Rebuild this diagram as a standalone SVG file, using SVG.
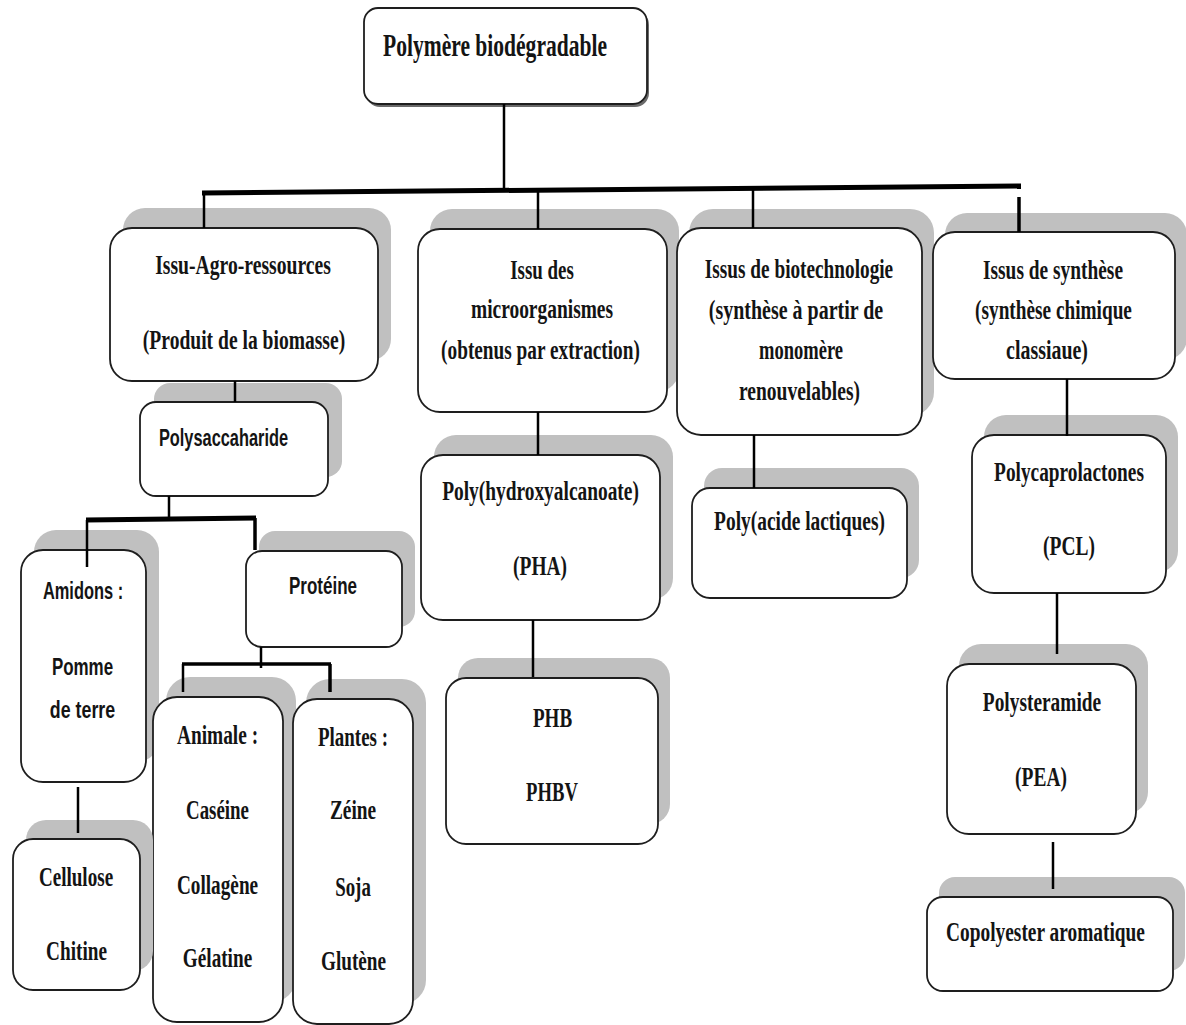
<svg xmlns="http://www.w3.org/2000/svg" width="1186" height="1025" viewBox="0 0 1186 1025">
<style>
.bg{fill:#ffffff}
.sh{fill:#c0c0c0}
.bx{fill:#ffffff;stroke:#1e1e1e;stroke-width:1.8}
.ts{fill:#6a6a6a}
.t{font-family:"Liberation Serif","Times New Roman",serif;font-weight:bold;font-size:28px;fill:#141414;text-anchor:middle}
.tt{font-size:31px}
.s{font-family:"Liberation Sans",Arial,sans-serif;font-weight:bold;font-size:24px;fill:#141414;text-anchor:middle}
.c line{stroke:#000;stroke-width:2.5;fill:none}
.c .k{stroke-width:5}
.c .m{stroke-width:3.5}
</style>
<rect class="bg" x="0" y="0" width="1186" height="1025"/>

<g id="n-polymere">
<rect class="ts" x="366" y="11" width="283" height="96" rx="14"/>
<rect class="bx" x="364" y="8" width="283" height="96" rx="14"/>
<text class="t tt" transform="translate(495,56) scale(0.7,1)" textLength="320" lengthAdjust="spacingAndGlyphs">Polymère biodégradable</text>
</g>

<g id="n-agro">
<rect class="sh" x="123" y="208" width="268" height="153" rx="22"/>
<rect class="bx" x="110" y="228" width="268" height="153" rx="22"/>
<text class="t" transform="translate(243,274) scale(0.7,1)" textLength="251" lengthAdjust="spacingAndGlyphs">Issu-Agro-ressources</text>
<text class="t" transform="translate(244,349) scale(0.7,1)" textLength="289" lengthAdjust="spacingAndGlyphs">(Produit de la biomasse)</text>
</g>

<g id="n-micro">
<rect class="sh" x="430" y="209" width="249" height="183" rx="22"/>
<rect class="bx" x="418" y="229" width="249" height="183" rx="22"/>
<text class="t" transform="translate(542,279) scale(0.7,1)" textLength="91" lengthAdjust="spacingAndGlyphs">Issu des</text>
<text class="t" transform="translate(542,318) scale(0.7,1)" textLength="203" lengthAdjust="spacingAndGlyphs">microorganismes</text>
<text class="t" transform="translate(540.5,359) scale(0.7,1)" textLength="284" lengthAdjust="spacingAndGlyphs">(obtenus par extraction)</text>
</g>

<g id="n-biotech">
<rect class="sh" x="689" y="209" width="245" height="207" rx="24"/>
<rect class="bx" x="677" y="228" width="245" height="207" rx="24"/>
<text class="t" transform="translate(799,278) scale(0.7,1)" textLength="269" lengthAdjust="spacingAndGlyphs">Issus de biotechnologie</text>
<text class="t" transform="translate(796,319) scale(0.7,1)" textLength="249" lengthAdjust="spacingAndGlyphs">(synthèse à partir de</text>
<text class="t" transform="translate(801,359) scale(0.7,1)" textLength="120" lengthAdjust="spacingAndGlyphs">monomère</text>
<text class="t" transform="translate(799.5,400) scale(0.7,1)" textLength="173" lengthAdjust="spacingAndGlyphs">renouvelables)</text>
</g>

<g id="n-synthese">
<rect class="sh" x="945" y="213" width="242" height="147" rx="22"/>
<rect class="bx" x="933" y="232" width="242" height="147" rx="22"/>
<text class="t" transform="translate(1053,279) scale(0.7,1)" textLength="200" lengthAdjust="spacingAndGlyphs">Issus de synthèse</text>
<text class="t" transform="translate(1053.5,319) scale(0.7,1)" textLength="224" lengthAdjust="spacingAndGlyphs">(synthèse chimique</text>
<text class="t" transform="translate(1047,359) scale(0.7,1)" textLength="117" lengthAdjust="spacingAndGlyphs">classiaue)</text>
</g>

<g id="n-polysaccaharide">
<rect class="sh" x="154" y="383" width="188" height="94" rx="16"/>
<rect class="bx" x="140" y="402" width="188" height="94" rx="16"/>
<text class="s" transform="translate(223.5,446) scale(0.68,1)" textLength="190" lengthAdjust="spacingAndGlyphs">Polysaccaharide</text>
</g>

<g id="n-amidons">
<rect class="sh" x="34" y="530" width="125" height="232" rx="22"/>
<rect class="bx" x="21" y="550" width="125" height="232" rx="22"/>
<text class="s" transform="translate(83,599) scale(0.68,1)" textLength="118" lengthAdjust="spacingAndGlyphs">Amidons :</text>
<text class="s" transform="translate(82.5,675) scale(0.68,1)" textLength="90" lengthAdjust="spacingAndGlyphs">Pomme</text>
<text class="s" transform="translate(82.5,718) scale(0.68,1)" textLength="96" lengthAdjust="spacingAndGlyphs">de terre</text>
</g>

<g id="n-proteine">
<rect class="sh" x="259" y="531" width="156" height="96" rx="16"/>
<rect class="bx" x="246" y="551" width="156" height="96" rx="16"/>
<text class="s" transform="translate(323,594) scale(0.68,1)" textLength="100" lengthAdjust="spacingAndGlyphs">Protéine</text>
</g>

<g id="n-animale">
<rect class="sh" x="166" y="677" width="130" height="325" rx="24"/>
<rect class="bx" x="153" y="697" width="130" height="325" rx="24"/>
<text class="t" transform="translate(217.5,744) scale(0.7,1)" textLength="116" lengthAdjust="spacingAndGlyphs">Animale :</text>
<text class="t" transform="translate(217.5,819) scale(0.7,1)" textLength="90" lengthAdjust="spacingAndGlyphs">Caséine</text>
<text class="t" transform="translate(217.5,894) scale(0.7,1)" textLength="116" lengthAdjust="spacingAndGlyphs">Collagène</text>
<text class="t" transform="translate(217.5,967) scale(0.7,1)" textLength="99" lengthAdjust="spacingAndGlyphs">Gélatine</text>
</g>

<g id="n-plantes">
<rect class="sh" x="306" y="679" width="120" height="325" rx="24"/>
<rect class="bx" x="293" y="699" width="120" height="325" rx="24"/>
<text class="t" transform="translate(353,746) scale(0.7,1)" textLength="100" lengthAdjust="spacingAndGlyphs">Plantes :</text>
<text class="t" transform="translate(353,819) scale(0.7,1)" textLength="66" lengthAdjust="spacingAndGlyphs">Zéine</text>
<text class="t" transform="translate(353,896) scale(0.7,1)" textLength="51" lengthAdjust="spacingAndGlyphs">Soja</text>
<text class="t" transform="translate(353.5,970) scale(0.7,1)" textLength="93" lengthAdjust="spacingAndGlyphs">Glutène</text>
</g>

<g id="n-cellulose">
<rect class="sh" x="26" y="820" width="127" height="151" rx="20"/>
<rect class="bx" x="13" y="839" width="127" height="151" rx="20"/>
<text class="t" transform="translate(76,886) scale(0.7,1)" textLength="106" lengthAdjust="spacingAndGlyphs">Cellulose</text>
<text class="t" transform="translate(76.5,960) scale(0.7,1)" textLength="87" lengthAdjust="spacingAndGlyphs">Chitine</text>
</g>

<g id="n-pha">
<rect class="sh" x="434" y="435" width="239" height="165" rx="22"/>
<rect class="bx" x="421" y="455" width="239" height="165" rx="22"/>
<text class="t" transform="translate(540.5,500) scale(0.7,1)" textLength="281" lengthAdjust="spacingAndGlyphs">Poly(hydroxyalcanoate)</text>
<text class="t" transform="translate(540,575) scale(0.7,1)" textLength="77" lengthAdjust="spacingAndGlyphs">(PHA)</text>
</g>

<g id="n-phb">
<rect class="sh" x="458" y="658" width="212" height="166" rx="20"/>
<rect class="bx" x="446" y="678" width="212" height="166" rx="20"/>
<text class="t" transform="translate(552.5,727) scale(0.7,1)" textLength="56" lengthAdjust="spacingAndGlyphs">PHB</text>
<text class="t" transform="translate(552,801) scale(0.7,1)" textLength="74" lengthAdjust="spacingAndGlyphs">PHBV</text>
</g>

<g id="n-pla">
<rect class="sh" x="704" y="468" width="215" height="110" rx="18"/>
<rect class="bx" x="692" y="488" width="215" height="110" rx="18"/>
<text class="t" transform="translate(799.5,530) scale(0.7,1)" textLength="244" lengthAdjust="spacingAndGlyphs">Poly(acide lactiques)</text>
</g>

<g id="n-pcl">
<rect class="sh" x="984" y="415" width="194" height="158" rx="22"/>
<rect class="bx" x="972" y="435" width="194" height="158" rx="22"/>
<text class="t" transform="translate(1069,481) scale(0.7,1)" textLength="214" lengthAdjust="spacingAndGlyphs">Polycaprolactones</text>
<text class="t" transform="translate(1069,555) scale(0.7,1)" textLength="74" lengthAdjust="spacingAndGlyphs">(PCL)</text>
</g>

<g id="n-pea">
<rect class="sh" x="959" y="644" width="189" height="170" rx="22"/>
<rect class="bx" x="947" y="664" width="189" height="170" rx="22"/>
<text class="t" transform="translate(1042,711) scale(0.7,1)" textLength="169" lengthAdjust="spacingAndGlyphs">Polysteramide</text>
<text class="t" transform="translate(1041,786) scale(0.7,1)" textLength="74" lengthAdjust="spacingAndGlyphs">(PEA)</text>
</g>

<g id="n-copolyester">
<rect class="sh" x="939" y="877" width="246" height="94" rx="16"/>
<rect class="bx" x="927" y="897" width="246" height="94" rx="16"/>
<text class="t" transform="translate(1045.5,941) scale(0.7,1)" textLength="284" lengthAdjust="spacingAndGlyphs">Copolyester aromatique</text>
</g>

<g id="connectors" class="c">
<line x1="504" y1="104" x2="504" y2="192"/>
<line class="k" x1="202" y1="193" x2="1021" y2="186"/>
<line x1="204" y1="193" x2="204" y2="228"/>
<line x1="538" y1="191" x2="538" y2="229"/>
<line x1="753" y1="189" x2="753" y2="228"/>
<line class="m" x1="1019" y1="197" x2="1019" y2="232"/>
<line x1="235" y1="381" x2="235" y2="402"/>
<line x1="169" y1="496" x2="169" y2="518"/>
<line class="k" x1="86" y1="520" x2="256" y2="518"/>
<line x1="87" y1="520" x2="87" y2="567"/>
<line class="m" x1="255" y1="518" x2="255" y2="550"/>
<line x1="261" y1="647" x2="261" y2="668"/>
<line class="m" x1="182" y1="664" x2="331" y2="664"/>
<line x1="183" y1="664" x2="183" y2="692"/>
<line class="m" x1="330" y1="664" x2="330" y2="692"/>
<line x1="78" y1="787" x2="78" y2="833"/>
<line x1="538" y1="412" x2="538" y2="455"/>
<line x1="533" y1="620" x2="533" y2="677"/>
<line x1="754" y1="435" x2="754" y2="488"/>
<line x1="1067" y1="379" x2="1067" y2="436"/>
<line x1="1057" y1="593" x2="1057" y2="654"/>
<line x1="1053" y1="842" x2="1053" y2="889"/>
</g>
</svg>
